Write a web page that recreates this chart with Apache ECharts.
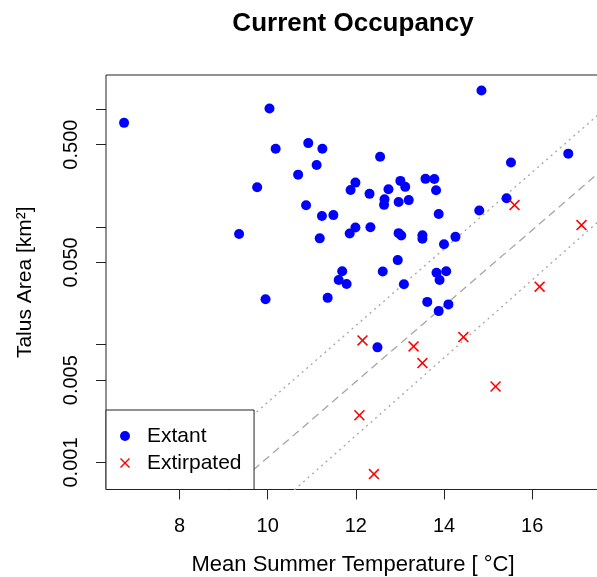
<!DOCTYPE html>
<html><head><meta charset="utf-8">
<script src="https://cdn.jsdelivr.net/npm/echarts@6/dist/echarts.min.js"></script>
<style>html,body{margin:0;padding:0;background:#fff}#c{width:597px;height:577px}</style>
</head><body><div id="c"></div>
<script>
const extantTemp = [6.74,10.04,10.18,10.92,11.24,11.11,10.69,9.76,11.99,11.88,10.87,11.23,11.49,11.99,11.86,11.18,9.35,11.69,11.61,11.79,9.95,11.36,14.85,12.55,15.52,16.82,12.31,13.01,13.12,12.74,13.58,13.78,13.82,12.65,12.64,12.97,13.20,13.88,14.80,15.42,12.33,12.97,13.03,13.51,13.51,14.00,14.26,12.95,12.61,13.83,14.05,13.90,13.09,13.62,13.88,14.10,12.49];
const extantArea = [0.765,1.012,0.462,0.515,0.462,0.336,0.278,0.217,0.238,0.206,0.153,0.124,0.126,0.099,0.088,0.080,0.087,0.042,0.0355,0.0328,0.0243,0.0250,1.441,0.395,0.353,0.419,0.191,0.246,0.219,0.209,0.256,0.255,0.205,0.172,0.154,0.163,0.169,0.129,0.138,0.175,0.0995,0.0886,0.0847,0.0849,0.0793,0.0714,0.0824,0.0523,0.0419,0.0409,0.0421,0.0355,0.0326,0.0231,0.0193,0.0220,0.0095];
const extirpTemp = [12.15,13.31,13.51,14.44,15.17,16.17,15.60,17.12,12.08,12.41];
const extirpArea = [0.01088,0.00968,0.00698,0.01161,0.00442,0.0311,0.1534,0.1037,0.00252,0.000797];
const fitX = [9.0, 17.6], fitY = [0.000525, 0.3076];
const upperX = [8.0, 17.6], upperY = [0.000726, 0.965];
const lowerX = [10.5, 17.6], lowerY = [0.000541, 0.1197];
const xTicks = [8, 10, 12, 14, 16];
const yTicks = [0.001, 0.005, 0.01, 0.05, 0.1, 0.5, 1];
const yLabels = [0.001, 0.005, 0.05, 0.5];

const FONT = "'Liberation Sans', Arial, Helvetica, sans-serif";
const crossPath = 'path://M0,1L1,0L5,4L9,0L10,1L6,5L10,9L9,10L5,6L1,10L0,9L4,5Z';
const pair = (xs, ys) => xs.map((x, i) => [x, ys[i]]);
const lineStyleBase = { color: '#a6a6a6', width: 1.3 };

const chart = echarts.init(document.getElementById('c'), null, { renderer: 'canvas' });
chart.setOption({
  animation: false,
  backgroundColor: '#fff',
  textStyle: { fontFamily: FONT },
  title: {
    text: 'Current Occupancy', left: 353, top: 11, textAlign: 'center', padding: 0,
    textStyle: { fontFamily: FONT, fontSize: 26, fontWeight: 'bold', color: '#000' }
  },
  grid: { left: 106, top: 75, right: -3, bottom: 87.5, containLabel: false, outerBoundsMode: 'none',
    show: true, borderColor: '#222', borderWidth: 1, backgroundColor: 'transparent' },
  legend: {
    orient: 'vertical', left: 106, top: 410,
    padding: [15, 12.5, 15.5, 14], itemGap: 5, itemWidth: 34, itemHeight: 10,
    backgroundColor: '#fff', borderColor: '#222', borderWidth: 1,
    textStyle: { fontFamily: FONT, fontSize: 21, color: '#000', lineHeight: 22 },
    data: [{ name: 'Extant', icon: 'circle' }, { name: 'Extirpated', icon: crossPath }]
  },
  xAxis: {
    type: 'value', min: 6.33, max: 17.54,
    name: 'Mean Summer Temperature [ °C]', nameLocation: 'middle', nameGap: 64,
    nameTextStyle: { fontFamily: FONT, fontSize: 22, color: '#000' },
    axisLine: { show: false },
    axisTick: { show: true, length: 10, inside: false, customValues: xTicks, lineStyle: { color: '#222', width: 1 } },
    axisLabel: { customValues: xTicks, margin: 27, fontFamily: FONT, fontSize: 20, color: '#000' },
    splitLine: { show: false }
  },
  yAxis: {
    type: 'log', logBase: 10, min: 0.00059, max: 1.95,
    name: 'Talus Area [km²]', nameLocation: 'middle', nameGap: 70, nameRotate: 90,
    nameTextStyle: { fontFamily: FONT, fontSize: 21, color: '#000' },
    axisLine: { show: false },
    axisTick: { show: true, length: 10, inside: false, customValues: yTicks, lineStyle: { color: '#222', width: 1 } },
    axisLabel: { customValues: yLabels, rotate: 90, margin: 25, fontFamily: FONT, fontSize: 20, color: '#000',
      formatter: v => Number(v).toFixed(3) },
    splitLine: { show: false }
  },
  series: [
    { name: 'fit', type: 'line', data: pair(fitX, fitY), symbol: 'none', silent: true, clip: true,
      lineStyle: Object.assign({}, lineStyleBase, { type: [8, 5] }), z: 1 },
    { name: 'upper', type: 'line', data: pair(upperX, upperY), symbol: 'none', silent: true, clip: true,
      lineStyle: Object.assign({}, lineStyleBase, { type: [2, 4] }), z: 1 },
    { name: 'lower', type: 'line', data: pair(lowerX, lowerY), symbol: 'none', silent: true, clip: true,
      lineStyle: Object.assign({}, lineStyleBase, { type: [2, 4] }), z: 1 },
    { name: 'Extant', type: 'scatter', data: pair(extantTemp, extantArea), symbol: 'circle', symbolSize: 10,
      itemStyle: { color: '#0000ff', opacity: 1 }, z: 3 },
    { name: 'Extirpated', type: 'scatter', data: pair(extirpTemp, extirpArea), symbol: crossPath, symbolSize: 11,
      itemStyle: { color: '#ff0000', opacity: 1 }, z: 3 }
  ]
});
</script></body></html>
